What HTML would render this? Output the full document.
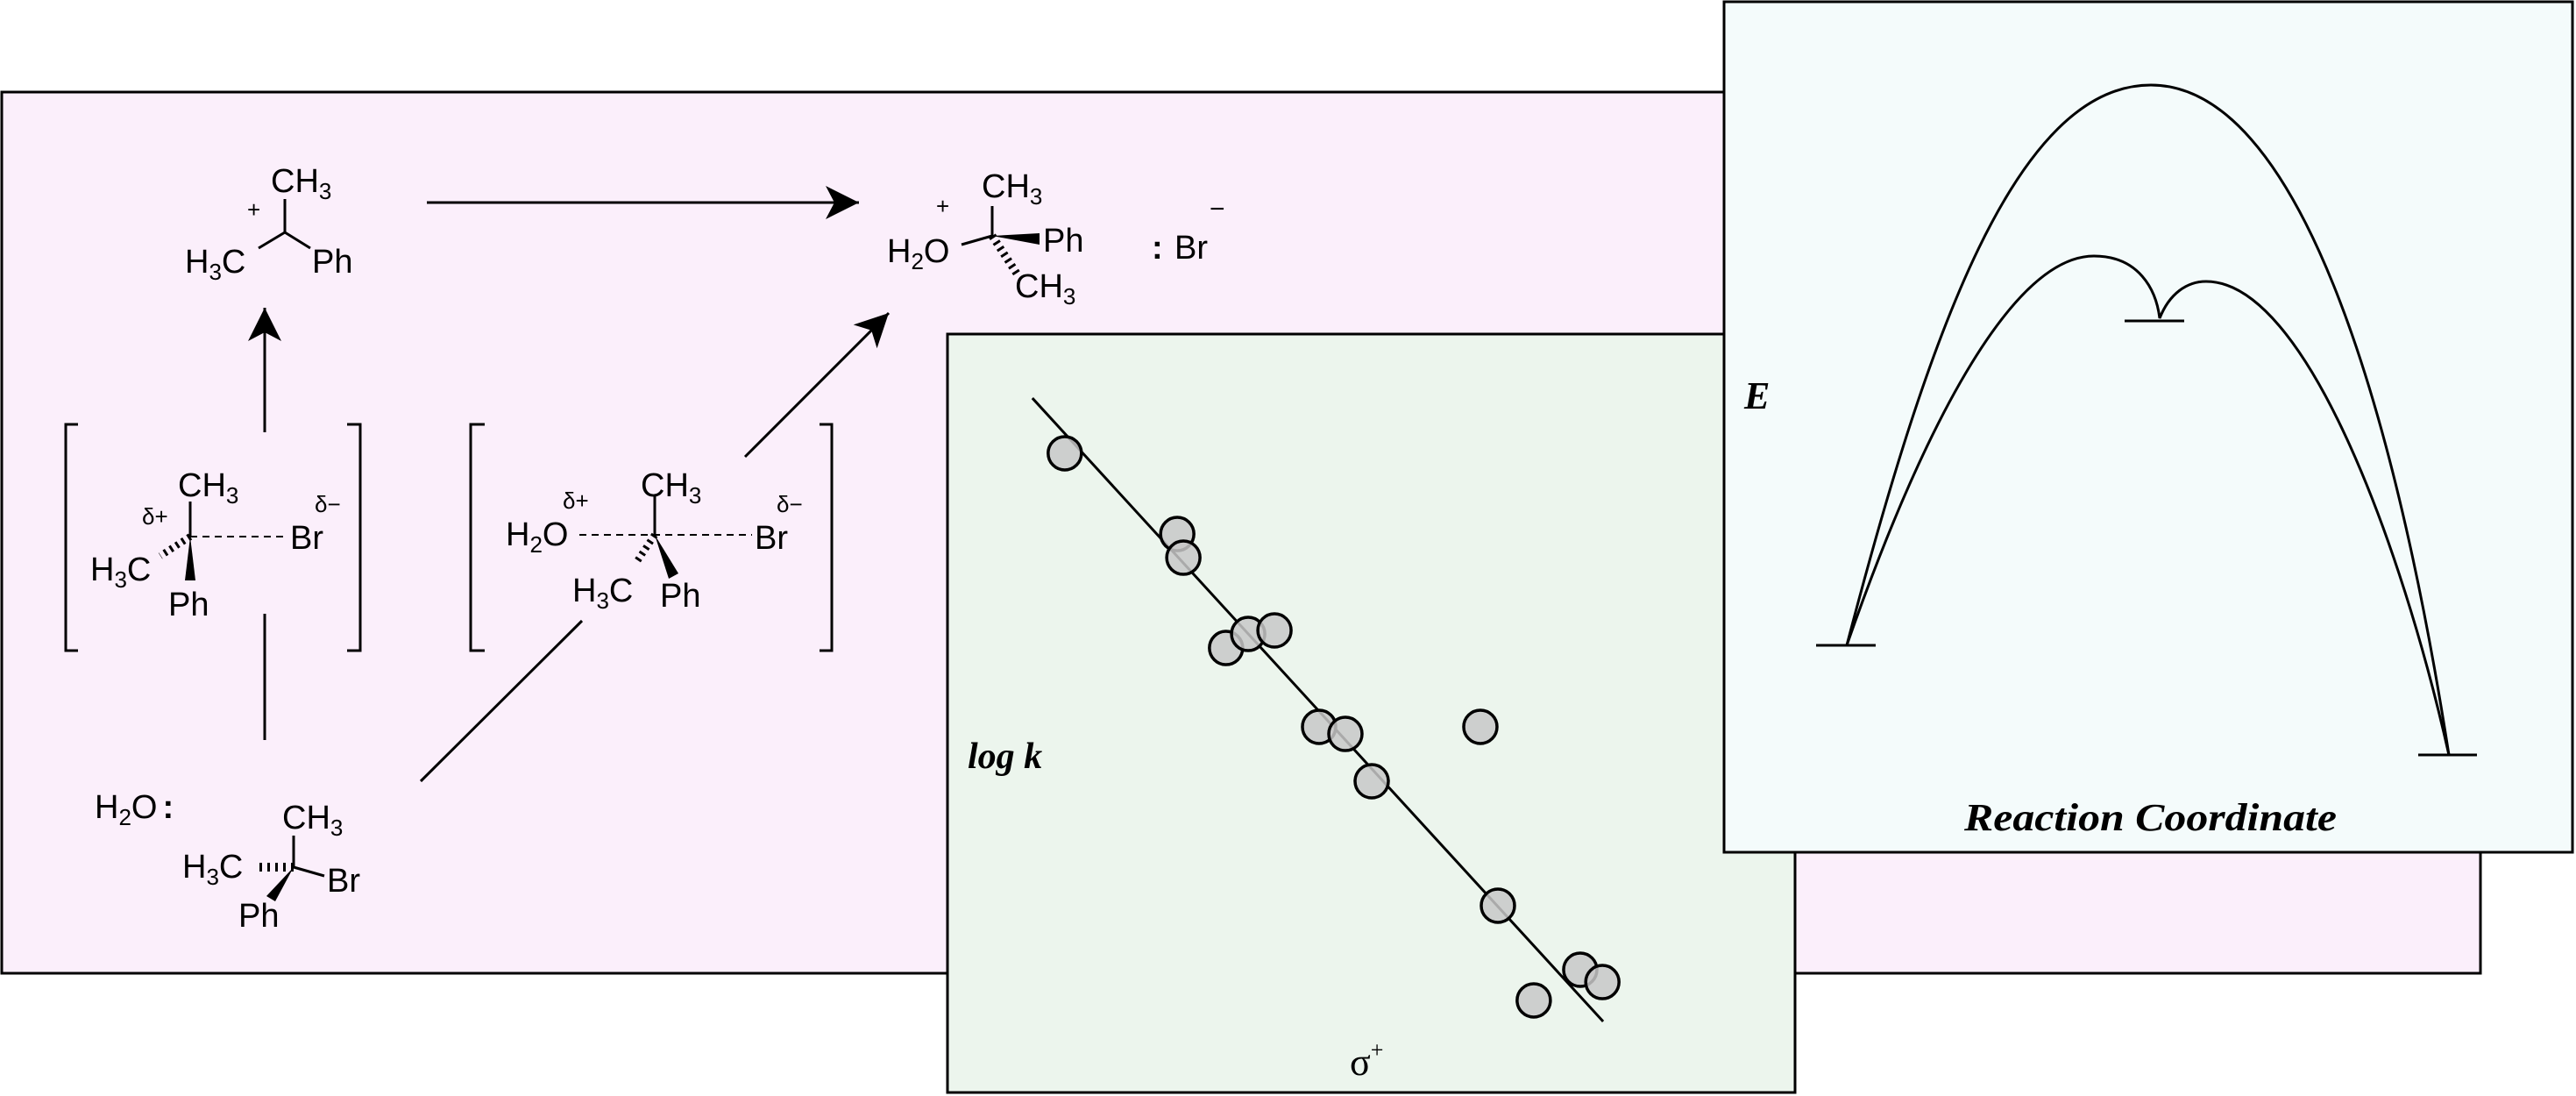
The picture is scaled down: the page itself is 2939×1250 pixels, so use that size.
<!DOCTYPE html>
<html><head><meta charset="utf-8"><style>
html,body{margin:0;padding:0;background:#fff}
svg{display:block}
.c{font-family:"Liberation Sans",Arial,sans-serif;font-size:38px;fill:#000}
.s{font-size:26px}
.d{font-family:"Liberation Sans",sans-serif;font-size:26px}
.lab{font-family:"Liberation Serif",serif;font-weight:bold;font-style:italic;fill:#000}
</style></head><body>
<svg id="fig" width="2939" height="1250" viewBox="0 0 2939 1250" xmlns="http://www.w3.org/2000/svg">
<defs><marker id="ah" markerWidth="10" markerHeight="10" refX="8" refY="5" orient="auto" markerUnits="userSpaceOnUse" viewBox="0 0 10 10" style="overflow:visible"><path d="M-30,-14 L8,5 L-30,24 L-20,5 Z" fill="#000"/></marker></defs>
<rect x="2" y="105" width="2828" height="1005" fill="#fbeffb" stroke="#000" stroke-width="3"/>
<g stroke="#000" stroke-width="3" fill="none">
<line x1="487" y1="231" x2="980" y2="231" marker-end="url(#ah)"/>
<line x1="302" y1="493" x2="302" y2="351" marker-end="url(#ah)"/>
<line x1="302" y1="700" x2="302" y2="844"/>
<line x1="850" y1="521" x2="1014" y2="357" marker-end="url(#ah)"/>
<line x1="480" y1="891" x2="664" y2="708"/>
<path d="M89,484 H75 V742 H89 M396,484 H411 V742 H396"/>
<path d="M553,484 H537 V742 H553 M935,484 H949 V742 H935"/>
<path d="M325,265 V227 M325,265 L295,283 M325,265 L354,283"/>
<path d="M217,612 V572"/><line x1="217" y1="612" x2="328" y2="612" stroke-dasharray="8,6" stroke-width="2"/>
<line x1="217" y1="612" x2="183" y2="634" stroke-dasharray="3,5" stroke-width="8"/>
<path d="M217,612 L211,662 L223,662 Z" fill="#000" stroke="none"/>
<line x1="661" y1="610" x2="858" y2="610" stroke-dasharray="8,6" stroke-width="2"/>
<path d="M747,610 V566"/>
<line x1="747" y1="610" x2="727" y2="640" stroke-dasharray="3,5" stroke-width="8"/>
<path d="M747,610 L763,660 L774,654 Z" fill="#000" stroke="none"/>
<path d="M335,989 V953 M335,989 L370,999"/>
<line x1="335" y1="989" x2="290" y2="989" stroke-dasharray="3,6" stroke-width="10"/>
<path d="M335,989 L304,1022 L314,1028 Z" fill="#000" stroke="none"/>
<path d="M1132,269 L1097,279 M1132,269 V235"/>
<path d="M1132,269 L1186,266 L1186,279 Z" fill="#000" stroke="none"/>
<line x1="1132" y1="269" x2="1162" y2="315" stroke-dasharray="3,5" stroke-width="9"/>
</g>
<g>
<text class="c" x="309" y="219">CH<tspan class="s" dy="8">3</tspan></text>
<text class="c" x="282" y="248" style="font-size:26px">+</text>
<text class="c" x="211" y="311">H<tspan class="s" dy="8">3</tspan><tspan dy="-8">C</tspan></text>
<text class="c" x="356" y="311">Ph</text>
<text class="c" x="203" y="566">CH<tspan class="s" dy="8">3</tspan></text>
<text class="d" x="162" y="598">δ+</text>
<text class="c" x="331" y="626">Br</text>
<text class="d" x="359" y="584">δ−</text>
<text class="c" x="103" y="662">H<tspan class="s" dy="8">3</tspan><tspan dy="-8">C</tspan></text>
<text class="c" x="192" y="702">Ph</text>
<text class="c" x="577" y="622">H<tspan class="s" dy="8">2</tspan><tspan dy="-8">O</tspan></text>
<text class="d" x="642" y="580">δ+</text>
<text class="c" x="731" y="566">CH<tspan class="s" dy="8">3</tspan></text>
<text class="c" x="861" y="626">Br</text>
<text class="d" x="886" y="584">δ−</text>
<text class="c" x="653" y="686">H<tspan class="s" dy="8">3</tspan><tspan dy="-8">C</tspan></text>
<text class="c" x="753" y="692">Ph</text>
<text class="c" x="108" y="933">H<tspan class="s" dy="8">2</tspan><tspan dy="-8">O</tspan><tspan dx="6" font-weight="bold">:</tspan></text>
<text class="c" x="322" y="945">CH<tspan class="s" dy="8">3</tspan></text>
<text class="c" x="208" y="1001">H<tspan class="s" dy="8">3</tspan><tspan dy="-8">C</tspan></text>
<text class="c" x="373" y="1017">Br</text>
<text class="c" x="272" y="1057">Ph</text>
<text class="c" x="1068" y="244" style="font-size:26px">+</text>
<text class="c" x="1012" y="299">H<tspan class="s" dy="8">2</tspan><tspan dy="-8">O</tspan></text>
<text class="c" x="1120" y="225">CH<tspan class="s" dy="8">3</tspan></text>
<text class="c" x="1190" y="287">Ph</text>
<text class="c" x="1158" y="339">CH<tspan class="s" dy="8">3</tspan></text>
<text class="c" x="1314" y="295" font-weight="bold">:</text>
<text class="c" x="1340" y="295">Br</text>
<text class="c" x="1380" y="248" style="font-size:30px">−</text>
</g>
<rect x="1081" y="381" width="967" height="865" fill="#ecf5ed" stroke="#000" stroke-width="3"/>
<g id="hammett"></g>
<text class="lab" x="1104" y="876" font-size="42">log k</text>
<text x="1540" y="1226" font-family="Liberation Serif,serif" font-size="44">σ<tspan font-size="26" dy="-20">+</tspan></text>
<rect x="1967" y="2" width="968" height="970" fill="#f4fbfb" stroke="#000" stroke-width="3"/>
<g fill="none" stroke="#000" stroke-width="3">
<line x1="2072" y1="736" x2="2140" y2="736"/>
<line x1="2424" y1="366" x2="2492" y2="366"/>
<line x1="2759" y1="861" x2="2826" y2="861"/>
<path d="M2107,736 C2200,380 2300,97 2454,97 C2620,97 2730,450 2794,861"/>
<path d="M2107,736 C2200,470 2300,292 2389,292 C2440,292 2460,330 2464,363 C2475,335 2495,321 2517,321 C2630,321 2740,620 2794,861"/>
</g>
<text class="lab" x="1990" y="466" font-size="44">E</text>
<text class="lab" x="2241" y="947" font-size="44" textLength="425" lengthAdjust="spacingAndGlyphs">Reaction Coordinate</text>
</svg>
<script>
const sigmaValues=[-0.805,-0.510,-0.494,-0.382,-0.324,-0.255,-0.138,-0.069,0.000,0.285,0.331,0.547,0.605,0.425];
const logkValues=[2.254,1.546,1.338,0.546,0.669,0.700,-0.146,-0.208,-0.623,-0.146,-1.715,-2.277,-2.385,-2.546];
const fitSigma=[-0.890,0.607];
const fitLogk=[2.738,-2.731];
const xS=v=>1130+(v+1)*435;
const yS=v=>420+(3-v)*130;
const NS='http://www.w3.org/2000/svg';
const g=document.getElementById('hammett');
const ln=document.createElementNS(NS,'line');
ln.setAttribute('x1',xS(fitSigma[0]));ln.setAttribute('y1',yS(fitLogk[0]));
ln.setAttribute('x2',xS(fitSigma[1]));ln.setAttribute('y2',yS(fitLogk[1]));
ln.setAttribute('stroke','#000');ln.setAttribute('stroke-width','3');


g.appendChild(ln);
for(let i=0;i<sigmaValues.length;i++){
 const c=document.createElementNS(NS,'circle');
 c.setAttribute('cx',xS(sigmaValues[i]));c.setAttribute('cy',yS(logkValues[i]));
 c.setAttribute('r','19');c.setAttribute('fill','rgba(200,200,200,0.85)');
 c.setAttribute('stroke','#000');c.setAttribute('stroke-width','3.5');
 
 
 g.appendChild(c);
}
</script>
</body></html>
